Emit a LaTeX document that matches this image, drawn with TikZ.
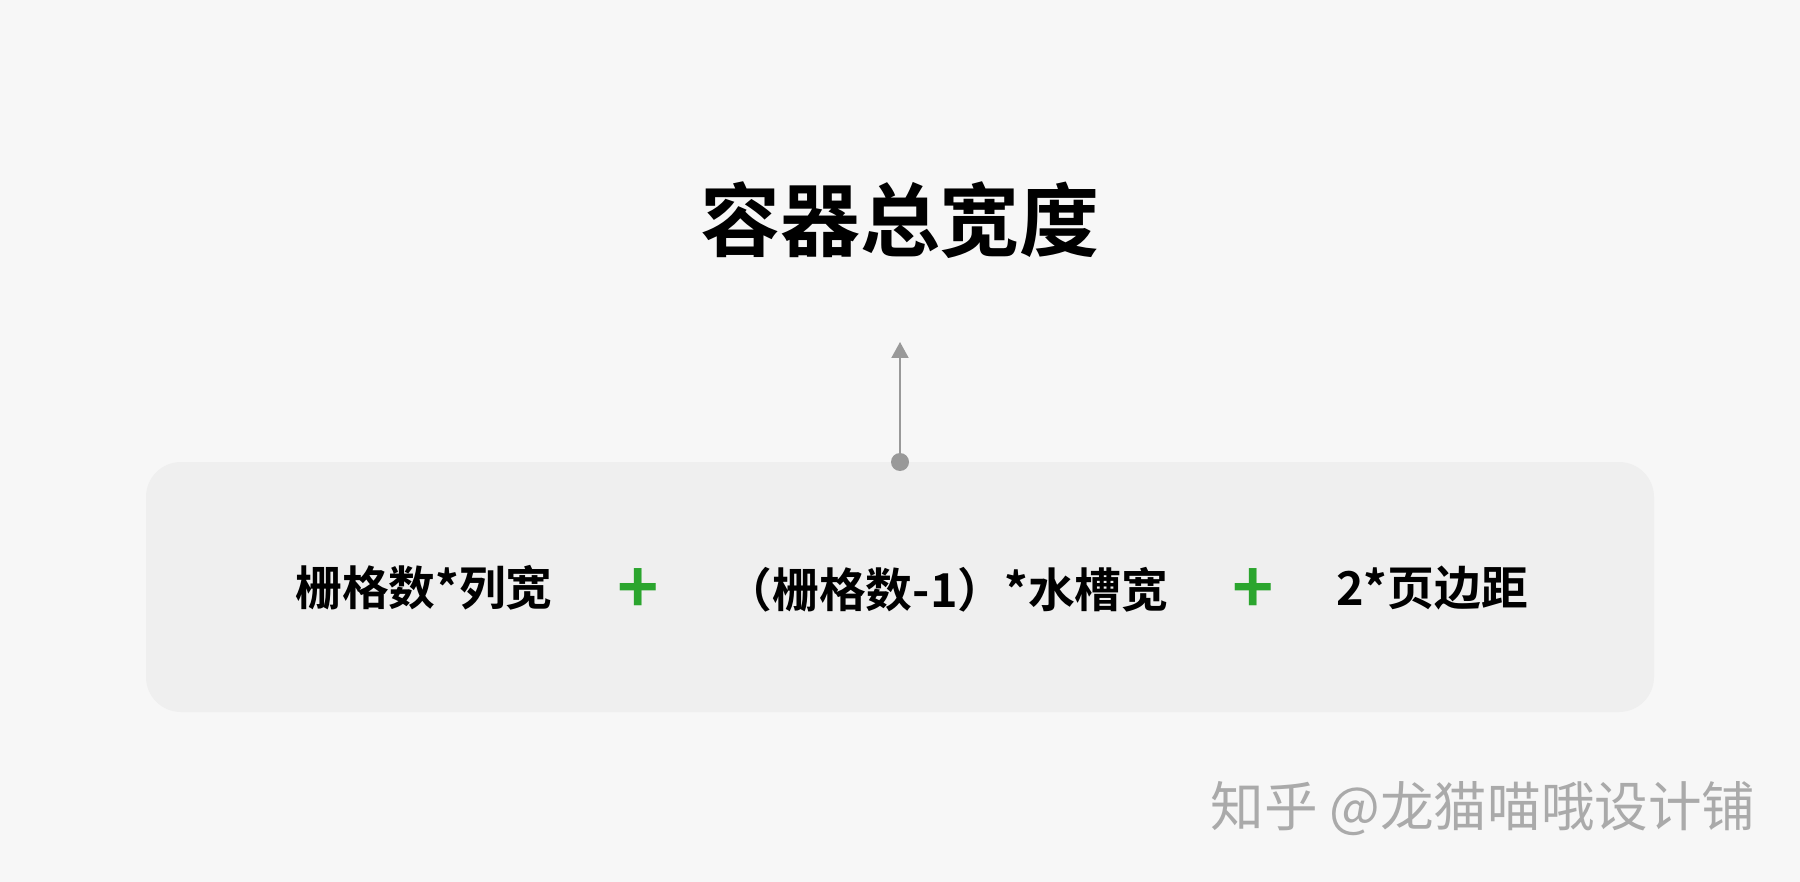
\documentclass[tikz,border=0pt]{standalone}
\usepackage{fontspec}
\setmainfont{Noto Sans CJK SC}[BoldFont={Noto Sans CJK SC Bold}]
\usetikzlibrary{arrows.meta,positioning}
\definecolor{pagebg}{HTML}{F7F7F7}
\definecolor{boxbg}{HTML}{EFEFEF}
\definecolor{linegray}{HTML}{999999}
\definecolor{plusgreen}{HTML}{2BA52E}
\definecolor{markgray}{HTML}{AAAAAA}
\begin{document}
\begin{tikzpicture}[
  x=0.02cm, y=-0.02cm,
  title/.style={inner sep=0pt, font=\bfseries\fontsize{45.5pt}{50pt}\selectfont},
  term/.style={inner sep=0pt, font=\bfseries\fontsize{26.6pt}{30pt}\selectfont},
  plus/.style={inner sep=0pt, text=plusgreen, font=\bfseries\fontsize{40pt}{42pt}\selectfont},
  dot/.style={circle, fill=linegray, inner sep=0pt, minimum size=0.36cm},
  credittext/.style={inner sep=0pt, text=markgray, font=\fontsize{30.5pt}{33pt}\selectfont}
]
\fill[pagebg] (0,0) rectangle (1800,882);
\useasboundingbox (0,0) rectangle (1800,882);

\fill[boxbg, rounded corners=0.7cm] (146,462) rectangle (1654,712);

\node[title] (total) at (900,220) {容器总宽度};

\node[term] (cols) at (424,588) {栅格数*列宽};
\node[plus] (plusa) at (638,591) {+};
\node[term] (gutter) at (947,590) {（栅格数-1）*水槽宽};
\node[plus] (plusb) at (1253,591) {+};
\node[term] (margin) at (1432,588) {2*页边距};

\node[dot] (dot) at (900,462) {};
\coordinate (tip) at (900,342);
\draw[-{Triangle[width=0.34cm,length=0.32cm]}, linegray, line width=0.04cm] (dot.center) -- (tip);

\node[credittext] (credit) at (1483,809) {知乎 @龙猫喵哦设计铺};
\end{tikzpicture}
\end{document}
